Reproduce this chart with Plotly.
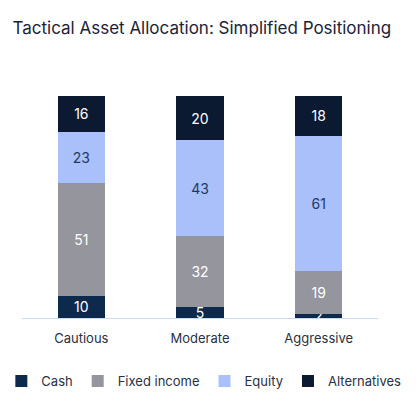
import plotly.graph_objects as go

# Allocation by profile (%)
profiles = ['Cautious', 'Moderate', 'Aggressive']
cash = [10, 5, 2]
fixed_income = [51, 32, 19]
equity = [23, 43, 61]
alternatives = [16, 20, 18]

series = [
    ('Cash', cash, '#0d2a4d', 'white'),
    ('Fixed income', fixed_income, '#94959d', 'white'),
    ('Equity', equity, '#a9c0fb', '#1f3a66'),
    ('Alternatives', alternatives, '#0b1a30', 'white'),
]

fig = go.Figure()
for name, vals, color, txtcolor in series:
    fig.add_trace(go.Bar(
        x=profiles, y=vals, name=name,
        marker=dict(color=color, line=dict(width=0)),
        text=vals, textposition='inside', insidetextanchor='middle',
        textangle=0, constraintext='none', cliponaxis=True,
        textfont=dict(color=txtcolor, size=14, family='Inter'),
        hoverinfo='skip',
    ))

fig.update_layout(
    barmode='stack', bargap=0.6,
    width=416, height=403,
    margin=dict(l=0, r=0, t=96, b=85),
    paper_bgcolor='white', plot_bgcolor='white',
    title=dict(text='Tactical Asset Allocation: Simplified Positioning',
               x=0.03, xanchor='left', y=0.93, yanchor='middle',
               font=dict(family='Inter', size=17, color='#1b2336')),
    font=dict(family='Inter', color='#2a3142'),
    xaxis=dict(domain=[0.0529, 0.9087], showline=True, linecolor='#c9dcef',
               linewidth=1, ticks='', ticklabelstandoff=8,
               tickfont=dict(size=13, color='#2a3142')),
    yaxis=dict(visible=False, range=[0, 100]),
    legend=dict(orientation='h', x=0.49, xanchor='center', y=-0.284,
                yanchor='middle', font=dict(size=13, color='#2a3142'),
                itemwidth=30, traceorder='normal'),
)

# page body has a default 8px margin; drop it so the figure sits at 0,0
fig.write_html("out.html", config={'displayModeBar': False},
               post_script="document.body.style.margin='0';")
